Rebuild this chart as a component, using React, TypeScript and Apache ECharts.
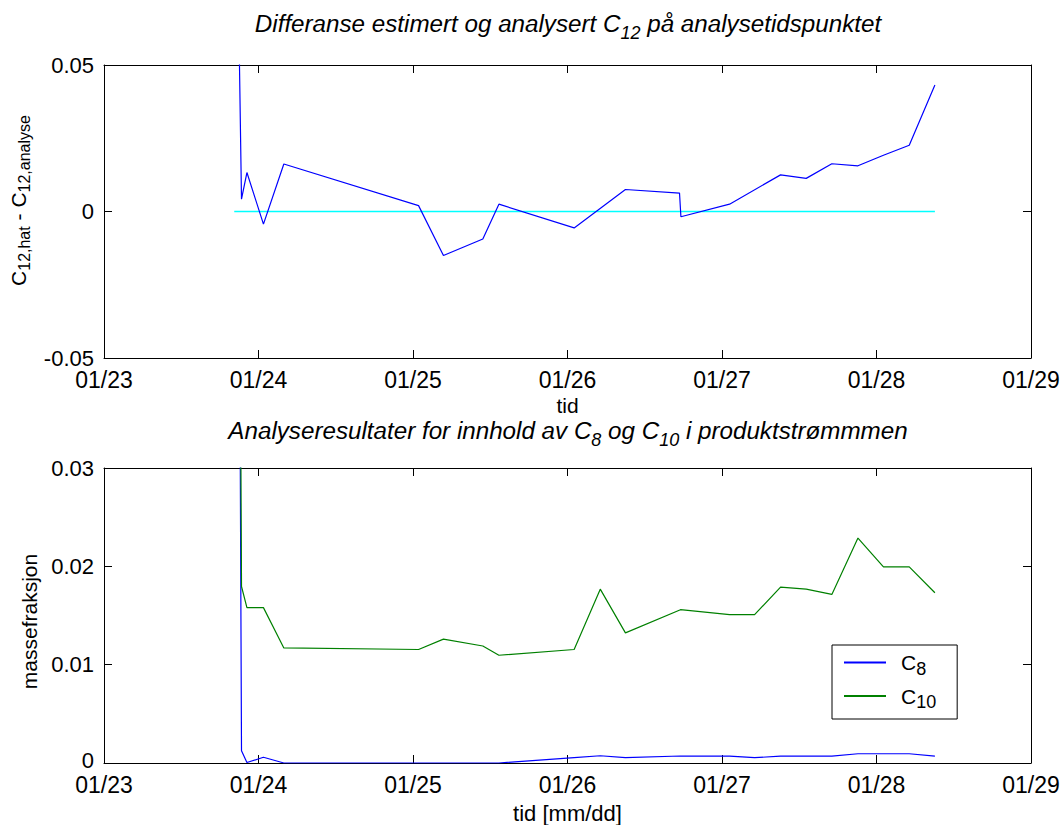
import React, { useEffect, useRef } from "react";
import * as echarts from "echarts";

// ---- data (days after 01/23) ----
const tickLabels = ["01/23", "01/24", "01/25", "01/26", "01/27", "01/28", "01/29"];

const diffTime = [0.874, 0.890, 0.925, 1.032, 1.164, 2.036, 2.197, 2.452, 2.556, 3.043, 3.375, 3.725, 3.734, 4.049, 4.379, 4.545, 4.711, 4.880, 5.045, 5.212, 5.378];
const diffValue = [0.06, 0.0042, 0.0133, -0.0043, 0.0162, 0.0020, -0.0150, -0.0094, 0.0025, -0.0056, 0.0075, 0.0063, -0.0018, 0.0025, 0.0125, 0.0113, 0.0163, 0.0156, 0.0192, 0.0226, 0.0432];

const zeroTime = [0.843, 5.378];
const zeroValue = [0, 0];

const anaTime = [0.874, 0.890, 0.925, 1.032, 1.164, 2.036, 2.197, 2.452, 2.556, 3.043, 3.212, 3.375, 3.731, 4.049, 4.211, 4.379, 4.545, 4.711, 4.880, 5.045, 5.212, 5.378];
const c8Value = [0.06, 0.00125, 0.00005, 0.00058, 0, 0, 0, 0, 0, 0.00054, 0.00074, 0.00054, 0.00071, 0.0007, 0.00054, 0.0007, 0.0007, 0.0007, 0.00094, 0.00094, 0.00094, 0.0007];
const c10Time = [0.877, 0.890, 0.925, 1.032, 1.164, 2.036, 2.197, 2.452, 2.556, 3.043, 3.212, 3.375, 3.731, 4.049, 4.211, 4.379, 4.545, 4.711, 4.880, 5.045, 5.212, 5.378];
const c10Value = [0.06, 0.01795, 0.0158, 0.0158, 0.0117, 0.01154, 0.0126, 0.0119, 0.01096, 0.01154, 0.01768, 0.01323, 0.01559, 0.01508, 0.01508, 0.01788, 0.01768, 0.01714, 0.02287, 0.01994, 0.01994, 0.01731];

const FONT = "Liberation Sans, Arial, sans-serif";

const pairs = (t: number[], v: number[]) => t.map((x, i) => [x, v[i]]);

export default function App() {
  const ref = useRef<HTMLDivElement>(null);
  useEffect(() => {
    if (!ref.current) return;
    const chart = echarts.init(ref.current, undefined, { renderer: "svg" });
    const richBase = {
      n: { fontSize: 21, fontFamily: FONT, color: "#000", fontWeight: "normal" },
      s: { fontSize: 16, fontFamily: FONT, color: "#000", fontWeight: "normal", padding: [12, 0, 0, 0] },
    };
    const richLegend = {
      n: { fontSize: 21, fontFamily: FONT, color: "#000", padding: [0, 0, 0, 10] },
      s: { fontSize: 18, fontFamily: FONT, color: "#000", padding: [12, 0, 0, 0] },
    };
    const richItalic = {
      i: { fontSize: 24.2, lineHeight: 24, fontFamily: FONT, fontStyle: "italic", fontWeight: "normal", color: "#000" },
      s: { fontSize: 18, lineHeight: 18, fontFamily: FONT, fontStyle: "italic", fontWeight: "normal", color: "#000", padding: [19, 0, 0, 0] },
    };
    const baseX = (gi: number, name: string, gap: number, nameSize: number) => ({
      type: "value",
      gridIndex: gi,
      min: 0,
      max: 6,
      interval: 1,
      name,
      nameLocation: "middle",
      nameGap: gap,
      nameTextStyle: { fontSize: nameSize, fontFamily: FONT, color: "#000", lineHeight: 18 },
      axisLine: { show: true, onZero: false, lineStyle: { color: "#000", width: 1 } },
      axisTick: { show: true, inside: true, length: 8, lineStyle: { color: "#000" } },
      axisLabel: {
        fontSize: 23,
        fontFamily: FONT,
        color: "#000",
        margin: 10,
        lineHeight: 23,
        formatter: (v: number) => tickLabels[Math.round(v)],
      },
      splitLine: { show: false },
    });
    const topX = (gi: number) => ({
      type: "value",
      gridIndex: gi,
      min: 0,
      max: 6,
      interval: 1,
      position: "top",
      axisLine: { show: true, onZero: false, lineStyle: { color: "#000", width: 1 } },
      axisTick: { show: true, inside: true, length: 8, lineStyle: { color: "#000" } },
      axisLabel: { show: false },
      splitLine: { show: false },
    });
    const leftY = (
      gi: number,
      min: number,
      max: number,
      interval: number,
      name: string,
      namePad: number[],
      fmt: (v: number) => string
    ) => ({
      type: "value",
      gridIndex: gi,
      min,
      max,
      interval,
      name,
      nameLocation: "middle",
      nameRotate: 90,
      nameGap: 62,
      nameTextStyle: { rich: richBase, padding: namePad },
      axisLine: { show: true, onZero: false, lineStyle: { color: "#000", width: 1 } },
      axisTick: { show: true, inside: true, length: 8, lineStyle: { color: "#000" } },
      axisLabel: {
        fontSize: 22,
        fontFamily: FONT,
        color: "#000",
        margin: 10,
        lineHeight: 16,
        formatter: fmt,
        rich: { z: { fontSize: 22, fontFamily: FONT, color: "#000", padding: [0, 0, 5, 0] } },
      },
      splitLine: { show: false },
    });
    const rightY = (gi: number, min: number, max: number, interval: number) => ({
      type: "value",
      gridIndex: gi,
      min,
      max,
      interval,
      position: "right",
      axisLine: { show: true, onZero: false, lineStyle: { color: "#000", width: 1 } },
      axisTick: { show: true, inside: true, length: 8, lineStyle: { color: "#000" } },
      axisLabel: { show: false },
      splitLine: { show: false },
    });

    const fmtTop = (v: number) => (Math.abs(v) < 1e-9 ? "0" : String(+v.toFixed(2)));
    const fmtBottom = (v: number) => (Math.abs(v) < 1e-9 ? "{z|0}" : String(+v.toFixed(2)));

    chart.setOption({
      animation: false,
      backgroundColor: "#fff",
      title: [
        {
          text: "{i|Differanse estimert og analysert C}{s|12}{i| på analysetidspunktet}",
          left: 568,
          textAlign: "center",
          top: 11,
          padding: 0,
          textStyle: { fontWeight: "normal", rich: richItalic },
        },
        {
          text: "{i|Analyseresultater for innhold av C}{s|8}{i| og C}{s|10}{i| i produktstrømmmen}",
          left: 568,
          textAlign: "center",
          top: 418.5,
          padding: 0,
          textStyle: { fontWeight: "normal", rich: richItalic },
        },
      ],
      grid: [
        { left: 104, right: 33, top: 65, height: 293 },
        { left: 104, right: 33, top: 468, height: 296 },
      ],
      legend: {
        data: ["C8", "C10"],
        orient: "vertical",
        left: 832,
        top: 645,
        backgroundColor: "#fff",
        borderColor: "#000",
        borderWidth: 1,
        borderRadius: 0,
        padding: [7, 21, 8, 12],
        itemGap: 8,
        itemWidth: 42,
        itemHeight: 2,
        icon: "rect",
        formatter: (name: string) => (name === "C8" ? "{n|C}{s|8}" : "{n|C}{s|10}"),
        textStyle: { rich: richLegend },
      },
      xAxis: [baseX(0, "tid", 38, 21), topX(0), baseX(1, "tid [mm/dd]", 41, 22), topX(1)],
      yAxis: [
        leftY(0, -0.05, 0.05, 0.05, "{n|C}{s|12,hat}{n| - C}{s|12,analyse}", [0, 0, 0, 22], fmtTop),
        rightY(0, -0.05, 0.05, 0.05),
        leftY(1, 0, 0.03, 0.01, "{n|massefraksjon}", [0, 12, 0, 0], fmtBottom),
        rightY(1, 0, 0.03, 0.01),
      ],
      series: [
        {
          type: "line",
          name: "zero",
          xAxisIndex: 0,
          yAxisIndex: 0,
          data: pairs(zeroTime, zeroValue),
          symbol: "none",
          z: 3,
          lineStyle: { color: "#00ffff", width: 1.6 },
          itemStyle: { color: "#00ffff" },
        },
        {
          type: "line",
          name: "diff",
          xAxisIndex: 0,
          yAxisIndex: 0,
          data: pairs(diffTime, diffValue),
          symbol: "none",
          z: 4,
          lineStyle: { color: "#0000ff", width: 1.2 },
          itemStyle: { color: "#0000ff" },
        },
        {
          type: "line",
          name: "C8",
          xAxisIndex: 2,
          yAxisIndex: 2,
          data: pairs(anaTime, c8Value),
          symbol: "none",
          lineStyle: { color: "#0000ff", width: 1.2 },
          itemStyle: { color: "#0000ff" },
        },
        {
          type: "line",
          name: "C10",
          xAxisIndex: 2,
          yAxisIndex: 2,
          data: pairs(c10Time, c10Value),
          symbol: "none",
          lineStyle: { color: "#008000", width: 1.2 },
          itemStyle: { color: "#008000" },
        },
      ],
    });
    return () => chart.dispose();
  }, []);
  return <div ref={ref} style={{ width: 1064, height: 825, position: "absolute", left: 0, top: 0 }} />;
}
